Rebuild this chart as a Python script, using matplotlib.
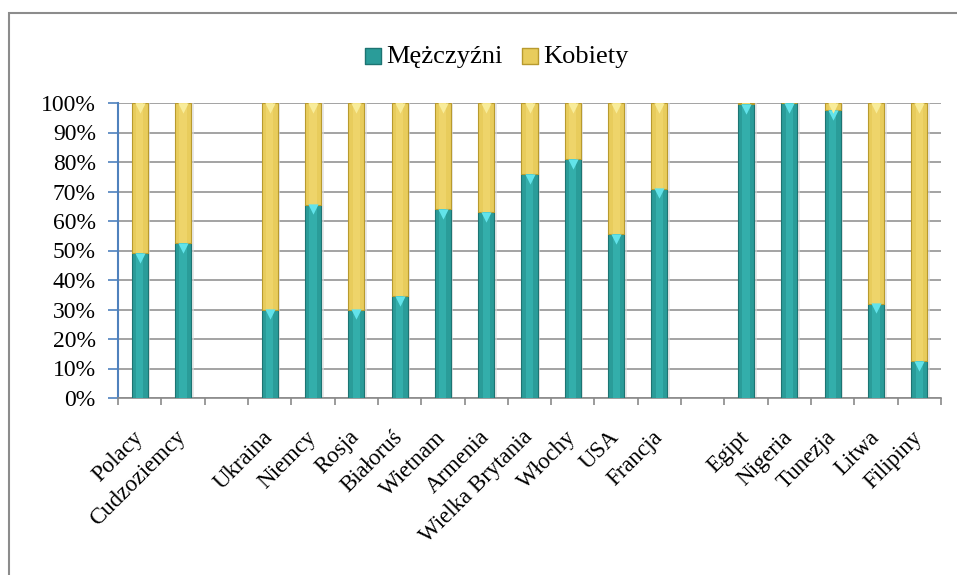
import numpy as np
import matplotlib.pyplot as plt
from matplotlib.patches import Rectangle
from matplotlib.ticker import PercentFormatter

plt.rcParams['font.family'] = ['Liberation Serif', 'DejaVu Serif']

# data (share of men, %); None marks the empty slots between groups
categories = ['Polacy', 'Cudzoziemcy', None,
              'Ukraina', 'Niemcy', 'Rosja', 'Białoruś', 'Wietnam', 'Armenia',
              'Wielka Brytania', 'Włochy', 'USA', 'Francja', None,
              'Egipt', 'Nigeria', 'Tunezja', 'Litwa', 'Filipiny']
men = [49, 52.5, None,
       30, 65.5, 30, 34.5, 64, 63, 76, 81, 55.5, 71, None,
       99.6, 100, 97.5, 32, 12.5]
women = [None if m is None else 100 - m for m in men]

teal = '#2A9C99'
teal_edge = '#1D7472'
teal_top = '#62E3EA'
gold = '#E8CC5C'
gold_edge = '#B89A2E'
gold_top = '#F8EC9A'

fig = plt.figure(figsize=(9.57, 5.75), dpi=100)
ax = fig.add_axes([118 / 957, 1 - 398 / 575, 823 / 957, 295 / 575])

# outer chart border (only left/top visible in the crop)
fig.patches.append(Rectangle((9 / 957, -0.05), 1.1, 1 - 13 / 575 + 0.05,
                             transform=fig.transFigure, fill=False,
                             edgecolor='#8C8C8C', linewidth=1.5))

idx = [i for i, c in enumerate(categories) if c is not None]
m = np.array([men[i] for i in idx])
w = np.array([women[i] for i in idx])
x = np.array(idx, dtype=float)
width = 0.37

# soft shadow to the right of the bars
ax.bar(x + 0.06, m + w, width, color='#D9D9D9', linewidth=0, zorder=2,
       alpha=0.6)
ax.bar(x, m, width, color=teal, edgecolor=teal_edge, linewidth=0.8, zorder=3)
ax.bar(x, w, width, bottom=m, color=gold, edgecolor=gold_edge, linewidth=0.8,
       zorder=3)
# lighter centre stripe to suggest the bevel
ax.bar(x, m, width * 0.45, color='#33AEAB', linewidth=0, zorder=3.5)
ax.bar(x, w, width * 0.45, bottom=m, color='#EED46A', linewidth=0, zorder=3.5)
# triangular caps at segment tops
ax.scatter(x, m - 1.6, marker='v', s=55, color=teal_top, linewidths=0, zorder=4)
ax.scatter(x[w > 0.5], 100 - 1.6 + 0 * x[w > 0.5], marker='v', s=55,
           color=gold_top, linewidths=0, zorder=4)

ax.set_xlim(-0.5, len(categories) - 0.5)
ax.set_ylim(0, 100)
ax.set_yticks(np.arange(0, 101, 10))
ax.yaxis.set_major_formatter(PercentFormatter(decimals=0))
ax.grid(axis='y', color='#8A8A8A', linewidth=1.1, zorder=0)

ax.set_xticks(x)
ax.set_xticklabels([categories[i] for i in idx], rotation=45, ha='right',
                   va='center', rotation_mode='anchor', fontsize=16.5)
ax.set_xticks(np.arange(-0.5, len(categories)), minor=True)
ax.tick_params(axis='x', which='major', length=0, pad=26)
ax.tick_params(axis='x', which='minor', length=5, color='#8A8A8A', width=1.2)
ax.tick_params(axis='y', length=7, color='#4F81BD', width=1.2, labelsize=17,
               pad=9)

for s in ['top', 'right']:
    ax.spines[s].set_visible(False)
ax.spines['left'].set_color('#4F81BD')
ax.spines['left'].set_linewidth(1.5)
ax.spines['bottom'].set_color('#8A8A8A')
ax.spines['bottom'].set_linewidth(1.2)

h1 = ax.scatter([], [], marker='s', s=120, color=teal, edgecolor=teal_edge)
h2 = ax.scatter([], [], marker='s', s=120, color=gold, edgecolor=gold_edge)
fig.legend([h1, h2], ['Mężczyźni', 'Kobiety'], loc='center',
           bbox_to_anchor=(494 / 957, 1 - 56 / 575), ncol=2, frameon=False,
           fontsize=19, handletextpad=0.0, columnspacing=0.55, handlelength=1)

fig.savefig('out.png', dpi=100)
